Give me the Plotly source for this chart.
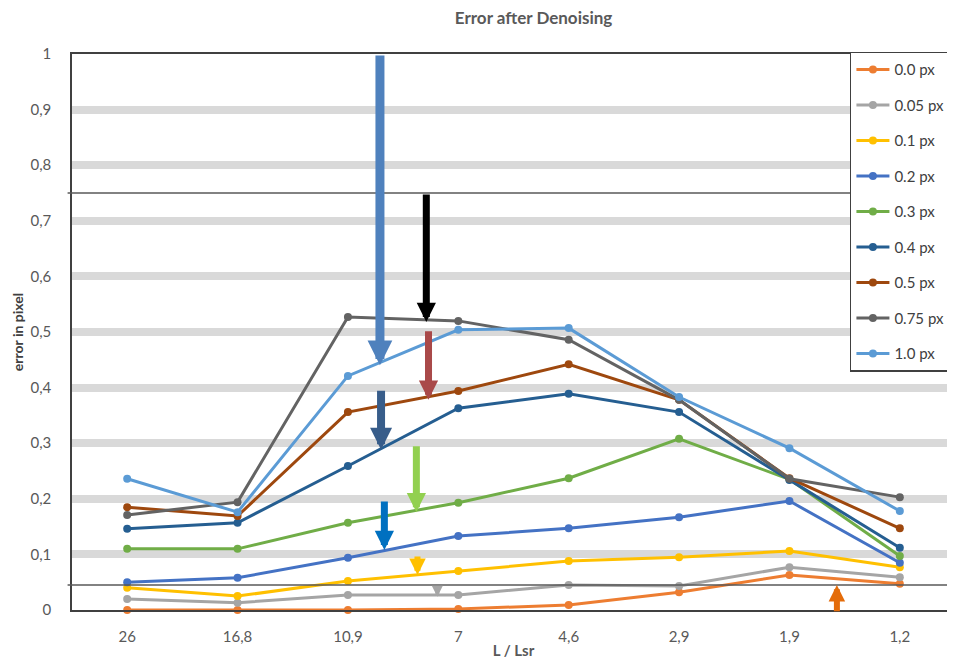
import plotly.graph_objects as go

# Datos
categorias = ['26', '16,8', '10,9', '7', '4,6', '2,9', '1,9', '1,2']

series_nombres = ['0.0 px', '0.05 px', '0.1 px', '0.2 px', '0.3 px',
                  '0.4 px', '0.5 px', '0.75 px', '1.0 px']
series_colores = ['#ED7D31', '#A5A5A5', '#FFC000', '#4472C4', '#70AD47',
                  '#255E91', '#9E480E', '#636363', '#5B9BD5']

err_00 = [0.0, 0.0, 0.0, 0.002, 0.009, 0.032, 0.063, 0.047]
err_005 = [0.02, 0.013, 0.027, 0.027, 0.045, 0.043, 0.077, 0.059]
err_01 = [0.04, 0.025, 0.052, 0.07, 0.088, 0.095, 0.106, 0.077]
err_02 = [0.05, 0.058, 0.094, 0.133, 0.147, 0.167, 0.196, 0.085]
err_03 = [0.11, 0.11, 0.157, 0.193, 0.237, 0.308, 0.235, 0.097]
err_04 = [0.146, 0.157, 0.259, 0.363, 0.389, 0.356, 0.234, 0.112]
err_05 = [0.185, 0.169, 0.356, 0.394, 0.442, 0.378, 0.237, 0.147]
err_075 = [0.171, 0.194, 0.527, 0.52, 0.486, 0.378, 0.236, 0.203]
err_10 = [0.236, 0.176, 0.421, 0.504, 0.507, 0.383, 0.291, 0.178]
series_valores = [err_00, err_005, err_01, err_02, err_03,
                  err_04, err_05, err_075, err_10]

# Flechas: posición x (índice de categoría), y de la punta, y de la cola
flecha_x = [2.29, 2.71, 2.73, 2.30, 2.62, 2.33, 2.63, 2.81, 6.43]
flecha_punta = [0.44, 0.518, 0.378, 0.288, 0.176, 0.108, 0.063, 0.024, 0.045]
flecha_cola = [1.0, 0.75, 0.504, 0.397, 0.297, 0.198, 0.099, 0.043, -0.005]
flecha_color = ['#4F81BD', '#000000', '#A94949', '#385D8A', '#92D050',
                '#0070C0', '#FFC000', '#A5A5A5', '#E46C0A']
flecha_ancho = [9, 7, 7, 8, 7, 7, 6, 4, 6]

fig = go.Figure()

for nombre, color, valores in zip(series_nombres, series_colores, series_valores):
    fig.add_trace(go.Scatter(
        x=categorias,
        y=valores,
        mode='lines+markers',
        name=nombre,
        legendgroup=nombre,
        line=dict(color=color, width=3),
        marker=dict(color=color, size=8),
        cliponaxis=False
    ))

# Flechas de anotación
for x, punta, cola, color, ancho in zip(flecha_x, flecha_punta, flecha_cola,
                                        flecha_color, flecha_ancho):
    fig.add_annotation(
        x=x, y=punta, ax=x, ay=cola,
        xref='x', yref='y', axref='x', ayref='y',
        text='', showarrow=True,
        arrowhead=2, arrowsize=0.55, arrowwidth=ancho,
        arrowcolor=color, standoff=0
    )

# Líneas horizontales finas
for yv in [0.75, 0.045]:
    fig.add_shape(type='line', xref='paper', yref='y',
                  x0=-0.005, x1=1, y0=yv, y1=yv,
                  line=dict(color='#595959', width=1.5))

fig.update_layout(
    width=947, height=659,
    margin=dict(l=64, r=0, t=46, b=57, autoexpand=False),
    paper_bgcolor='white',
    plot_bgcolor='white',
    font=dict(family='Lato', size=15, color='#595959'),
    title=dict(text='<b>Error after Denoising</b>', x=0.555, xanchor='center',
               y=0.985, yanchor='middle',
               font=dict(size=17, color='#595959')),
    xaxis=dict(
        type='category',
        range=[-0.5, 7.5],
        showgrid=False,
        showline=True, linecolor='#404040', linewidth=1.5, mirror=True,
        ticks='', ticklabelstandoff=12,
        title=dict(text='<b>L / Lsr</b>', standoff=2,
                   font=dict(size=15, color='#595959'))
    ),
    yaxis=dict(
        range=[0, 1],
        dtick=0.1,
        tickformat='.1~f',
        showgrid=True, gridcolor='#D9D9D9', gridwidth=8,
        zeroline=False,
        showline=True, linecolor='#404040', linewidth=1.5, mirror=True,
        ticks='', ticklabelstandoff=16,
        title=dict(text='<b>error in pixel</b>', standoff=4,
                   font=dict(size=14, color='#404040'))
    ),
    separators=', ',
    legend=dict(
        x=0.881, y=1.004, xanchor='left', yanchor='top',
        bgcolor='white', bordercolor='#404040', borderwidth=1.5,
        font=dict(size=15, color='#404040'),
        tracegroupgap=13,
        itemwidth=33
    ),
    showlegend=True
)

fig.write_html("out.html")
